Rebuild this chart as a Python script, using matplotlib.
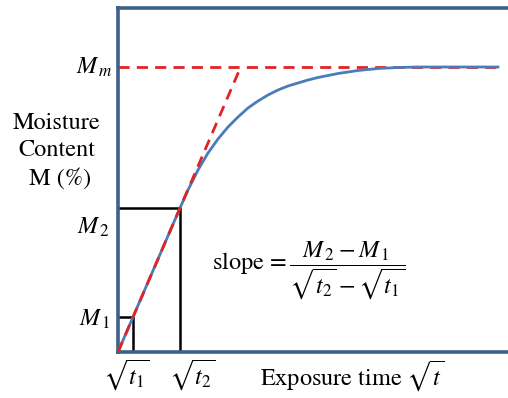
import matplotlib.pyplot as plt

plt.rcParams['font.family'] = 'STIXGeneral'
plt.rcParams['mathtext.fontset'] = 'stix'

# sqrt(t) vs moisture uptake curve (arbitrary units)
root_t = [0, 1.5, 6.2, 7.0, 8.0, 9.0, 10.0, 11.0, 12.0, 13.0, 14.0, 15.0,
          16.0, 17.0, 18.0, 19.0, 20.0, 22.0, 24.0, 26.0, 28.0, 30.0, 38.0]
moisture = [0, 3.5, 14.4, 16.2, 18.2, 19.9, 21.3, 22.5, 23.5, 24.4, 25.1, 25.7,
            26.2, 26.6, 26.9, 27.2, 27.45, 27.85, 28.15, 28.35, 28.45, 28.5, 28.5]

t1, t2 = 1.5, 6.2
M1, M2 = 3.5, 14.4
Mm = 28.5
slope = M2 / t2

fig = plt.figure(figsize=(5.08, 3.98), dpi=100)
ax = fig.add_axes([118 / 508, 46 / 398, 394 / 508, 344 / 398])
ax.set_xlim(0, 39.4)
ax.set_ylim(0, 34.4)

spine_col = '#3d6189'
for s in ['left', 'top', 'bottom']:
    ax.spines[s].set_color(spine_col)
    ax.spines[s].set_linewidth(2.6)
ax.spines['right'].set_visible(False)
ax.set_xticks([])
ax.set_yticks([])

# saturation level and initial tangent
red = '#e02424'
ax.plot([0, 38.0], [Mm, Mm], color=red, lw=2.0, ls=(0, (4, 2.6)), zorder=2)
ax.plot([0, Mm / slope], [0, Mm], color=red, lw=2.0, ls=(0, (4, 2.6)), zorder=4)

# boxes marking the two readings
ax.plot([0, t1, t1], [M1, M1, 0], color='black', lw=1.8, zorder=1)
ax.plot([0, t2, t2], [M2, M2, 0], color='black', lw=1.8, zorder=1)

ax.plot(root_t, moisture, color='#4a7cb8', lw=2.0, zorder=3)

fs = 17.5
ax.text(-0.5, Mm, r'$M_{\,m}$', ha='right', va='center', fontsize=fs, clip_on=False)
ax.text(-0.8, M2 - 1.9, r'$M_{\,2}$', ha='right', va='center', fontsize=fs, clip_on=False)
ax.text(-0.8, M1 - 0.2, r'$M_{\,1}$', ha='right', va='center', fontsize=fs, clip_on=False)

ax.text(-6.1, 20.1, 'Moisture\nContent\n M (%)', ha='center', va='center',
        fontsize=fs, linespacing=1.38, clip_on=False)

ax.text(t1 - 0.7, -2.3, r'$\sqrt{t_1}$', ha='center', va='center', fontsize=fs, clip_on=False)
ax.text(t2 + 1.2, -2.3, r'$\sqrt{t_2}$', ha='center', va='center', fontsize=fs, clip_on=False)
ax.text(14.2, -2.4, r'Exposure time $\sqrt{t}$', ha='left', va='center',
        fontsize=fs, clip_on=False)

ax.text(9.4, 8.2, r'slope$\,=\dfrac{M_{\,2}-M_{\,1}}{\sqrt{t_2}-\sqrt{t_1}}$',
        ha='left', va='center', fontsize=fs)

fig.savefig('out.png', dpi=100)
